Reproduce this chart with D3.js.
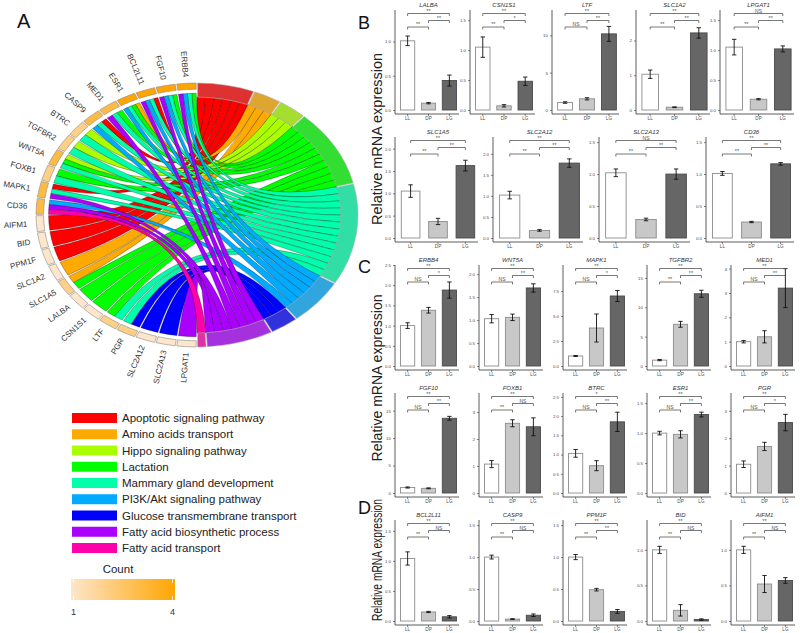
<!DOCTYPE html>
<html><head><meta charset="utf-8">
<script src="https://cdn.jsdelivr.net/npm/d3@7"></script>
<style>
body{margin:0;background:#fff}
svg{display:block}
text{font-family:"Liberation Sans",Arial,sans-serif}
</style>
</head><body>
<svg id="c" width="800" height="633"></svg>
<script>
// ---------- Chord (panel A) data ----------
const chordTerms = ["Apoptotic signaling pathway","Amino acids transport","Hippo signaling pathway","Lactation","Mammary gland development","PI3K/Akt signaling pathway","Glucose transmembrane transport","Fatty acid biosynthetic process","Fatty acid transport"];
const termColors = ["#FF0000","#FFAA00","#AAFF00","#00FF00","#00FFAA","#00AAFF","#0000FF","#AA00FF","#FF00AA"];
const chordGenes = ["ERBB4","FGF10","BCL2L11","ESR1","MED1","CASP9","BTRC","TGFBR2","WNT5A","FOXB1","MAPK1","CD36","AIFM1","BID","PPM1F","SLC1A2","SLC1A5","LALBA","CSN1S1","LTF","PGR","SLC2A12","SLC2A13","LPGAT1"];
const geneTerms = [[3,4,5,7],[3,4,5,7],[0,4,5,7],[1,3,4,5],[3,4,7],[0,4,5],[2,4],[2,4],[2,3,4],[3,4],[0,4,7],[5,7,8],[0],[0],[0],[1],[1,3],[3],[3],[3,4],[4,6],[6],[6],[7]];
const countRange = [1, 4];

// ---------- qPCR panels (B, C, D) data ----------
const groups = ["LL","DP","LG"];
const panelGenes = ["LALBA","CSN1S1","LTF","SLC1A2","LPGAT1","SLC1A5","SLC2A12","SLC2A13","CD36","ERBB4","WNT5A","MAPK1","TGFBR2","MED1","FGF10","FOXB1","BTRC","ESR1","PGR","BCL2L11","CASP9","PPM1F","BID","AIFM1"];
const meanLL = [1.01,1.05,1.0,1.03,1.05, 1.05,1.02,1.02,1.01, 1.0,1.03,1.0,1.0,1.0, 1.0,1.07,1.03,1.0,1.05, 1.04,1.0,1.0,1.0,1.0];
const errLL  = [0.07,0.17,0.1,0.12,0.13, 0.14,0.09,0.06,0.03, 0.07,0.09,0.05,0.1,0.05, 0.1,0.13,0.1,0.03,0.12, 0.11,0.03,0.04,0.05,0.05];
const meanDP = [0.10,0.07,1.5,0.08,0.18, 0.37,0.18,0.29,0.25, 1.38,1.06,3.8,7.1,1.2, 0.85,2.58,0.71,0.98,1.7, 0.15,0.03,0.49,0.15,0.52];
const errDP  = [0.01,0.02,0.15,0.01,0.01, 0.07,0.02,0.02,0.01, 0.07,0.07,1.4,0.5,0.25, 0.08,0.13,0.13,0.06,0.15, 0.01,0.005,0.02,0.08,0.12];
const meanLG = [0.43,0.48,10.2,2.22,1.02, 1.62,1.78,1.0,1.16, 1.88,1.7,7.0,12.3,3.2, 13.6,2.45,1.85,1.31,2.57, 0.07,0.09,0.15,0.02,0.57];
const errLG  = [0.08,0.07,1.0,0.15,0.05, 0.12,0.1,0.08,0.02, 0.2,0.09,0.55,0.6,0.8, 0.35,0.33,0.25,0.04,0.3, 0.02,0.02,0.03,0.01,0.04];
const yMax   = [1.46,1.67,13.4,2.88,1.67, 2.26,2.4,1.58,1.58, 2.5,2.2,10.1,17.2,4.15, 18.2,3.7,2.6,1.67,3.65, 1.68,1.58,1.58,1.42,1.42];
const yTicks = [[0,0.5,1],[0,0.5,1,1.5],[0,5,10],[0,1,2],[0,0.5,1,1.5],
  [0,0.5,1,1.5,2],[0,0.5,1,1.5,2],[0,0.5,1,1.5],[0,0.5,1,1.5],
  [0,0.5,1,1.5,2,2.5],[0,0.5,1,1.5,2],[0,2.5,5,7.5],[0,5,10,15],[0,1,2,3,4],
  [0,5,10,15],[0,1,2,3],[0,0.5,1,1.5,2,2.5],[0,0.5,1,1.5],[0,1,2,3],
  [0,0.5,1,1.5],[0,0.5,1,1.5],[0,0.5,1,1.5],[0,0.5,1],[0,0.5,1]];
const sigLLDP = ["**","**","NS","**","**", "**","**","**","**", "NS","NS","NS","**","NS", "NS","**","NS","NS","NS", "**","**","**","**","**"];
const sigDPLG = ["**","*","**","**","**", "**","**","**","**", "*","**","*","**","**", "**","NS","**","**","*", "NS","NS","**","NS","NS"];
const sigLLLG = ["**","**","**","**","NS", "**","**","NS","**", "**","**","**","**","**", "**","**","*","**","**", "**","**","**","**","**"];

// ---------- drawing ----------
const svg = d3.select("#c");
const FONT = "'Liberation Sans', Arial, sans-serif";

// panel letters
svg.append("text").attr("x",17).attr("y",28).attr("font-size",20).attr("fill","#111").text("A");
[["B",29],["C",273],["D",514]].forEach(([t,y])=>svg.append("text").attr("x",358).attr("y",y).attr("font-size",18).attr("fill","#111").text(t));

// ===== Chord diagram =====
const cx = 197, cy = 215, RY = 132, RX = 161;
const nG = chordGenes.length;
const geneAng = d3.scaleLinear().domain([0, nG]).range([2*Math.PI, Math.PI]);
const termCounts = chordTerms.map((t,k)=>geneTerms.filter(a=>a.includes(k)).length);
const termStart = []; termCounts.reduce((s,c,k)=>{termStart[k]=s; return s+c;},0);
const nL = d3.sum(termCounts);
const termAng = d3.scaleLinear().domain([0, nL]).range([0, Math.PI]);
const countColor = d3.scaleLinear().domain(countRange).range(["#FDE6CB","#FFA500"]);
const gpad = 0.005;
const links = [];
const termPos = chordTerms.map(()=>0);
chordGenes.forEach((g,i)=>{
  const ts = geneTerms[i].slice().sort((a,b)=>a-b);
  const a1 = geneAng(i) - gpad, a0 = geneAng(i+1) + gpad;
  const w = (a1-a0)/ts.length;
  ts.forEach((k,j)=>{
    const p = termStart[k] + termPos[k]++;
    links.push({term:k,
      source:{startAngle:a1-(j+1)*w, endAngle:a1-j*w, radius:0.922*RY},
      target:{startAngle:termAng(p), endAngle:termAng(p+1), radius:0.895*RY}});
  });
});
const chordG = svg.append("g").attr("transform",`translate(${cx},${cy}) scale(${RX/RY},1)`);
const ribbon = d3.ribbon().radius(d=>d.radius);
chordG.append("g").selectAll("path").data(links.sort((a,b)=>a.term-b.term)).join("path")
  .attr("d",ribbon).attr("fill",d=>termColors[d.term])
  .attr("stroke","rgba(0,0,0,0.55)").attr("stroke-width",0.5).attr("vector-effect","non-scaling-stroke");
// gene ring
const geneArc = d3.arc().innerRadius(0.953*RY).outerRadius(RY);
chordG.append("g").selectAll("path").data(chordGenes).join("path")
  .attr("d",(g,i)=>geneArc({startAngle:geneAng(i+1)+gpad, endAngle:geneAng(i)-gpad}))
  .attr("fill",(g,i)=>countColor(geneTerms[i].length))
  .attr("stroke","#8a8a8a").attr("stroke-width",0.6).attr("vector-effect","non-scaling-stroke");
// term ring
const termArc = d3.arc().innerRadius(0.893*RY).outerRadius(RY);
chordG.append("g").selectAll("path").data(chordTerms).join("path")
  .attr("d",(t,k)=>termArc({startAngle:termAng(termStart[k])+0.004, endAngle:termAng(termStart[k]+termCounts[k])-0.004}))
  .attr("fill",(t,k)=>d3.interpolateRgb(termColors[k],"#999999")(0.32))
  .attr("stroke","#b0b0b0").attr("stroke-width",0.6).attr("vector-effect","non-scaling-stroke");
// gene labels
chordGenes.forEach((g,i)=>{
  const th = (geneAng(i)+geneAng(i+1))/2;
  const x = cx + (RX+9)*Math.sin(th), y = cy - (RY+6)*Math.cos(th);
  const rot = Math.atan2(cy-y, cx-x)*180/Math.PI;
  svg.append("text").attr("transform",`translate(${x},${y}) rotate(${rot})`)
    .attr("text-anchor","end").attr("dy","0.35em").attr("font-size",8).attr("fill","#333").text(g);
});

// legend
const legY = d3.scaleLinear().domain([0, chordTerms.length-1]).range([418, 548]);
chordTerms.forEach((t,k)=>{
  svg.append("rect").attr("x",72).attr("y",legY(k)-5).attr("width",45).attr("height",10).attr("fill",termColors[k]);
  svg.append("text").attr("x",122).attr("y",legY(k)).attr("dy","0.36em").attr("font-size",11.5).attr("fill","#222").text(t);
});
const defs = svg.append("defs");
const lg = defs.append("linearGradient").attr("id","cg");
lg.append("stop").attr("offset","0%").attr("stop-color",countColor(countRange[0]));
lg.append("stop").attr("offset","100%").attr("stop-color",countColor(countRange[1]));
svg.append("text").attr("x",118).attr("y",573).attr("text-anchor","middle").attr("font-size",11.5).attr("fill","#222").text("Count");
svg.append("rect").attr("x",71).attr("y",579).attr("width",104).attr("height",21).attr("fill","url(#cg)");
const cbx = d3.scaleLinear().domain(countRange).range([73.5,172.5]);
countRange.forEach(v=>{
  svg.append("line").attr("x1",cbx(v)).attr("x2",cbx(v)).attr("y1",579).attr("y2",583).attr("stroke","#fff").attr("stroke-width",0.8);
  svg.append("line").attr("x1",cbx(v)).attr("x2",cbx(v)).attr("y1",596).attr("y2",600).attr("stroke","#fff").attr("stroke-width",0.8);
  svg.append("text").attr("x",cbx(v)).attr("y",615).attr("text-anchor","middle").attr("font-size",9).attr("fill","#333").text(v);
});

// ===== bar panels =====
const rowLayout = [
  {idx:[0,1,2,3,4], top:10, base:110, ax:[395,470,552,636,720], rt:[459,535,619,710,794]},
  {idx:[5,6,7,8], top:137, base:238, ax:[395,493,599,706], rt:[478,583,690,794]},
  {idx:[9,10,11,12,13], top:265, base:366, ax:[395,479,563,647,731], rt:[459,543,627,711,795]},
  {idx:[14,15,16,17,18], top:393, base:493, ax:[395,479,563,647,731], rt:[459,543,627,711,795]},
  {idx:[19,20,21,22,23], top:520, base:621, ax:[395,479,563,647,731], rt:[459,543,627,711,795]}
];
const barFill = ["#FFFFFF","#C8C8C8","#666666"];
const barStroke = ["#8c8c8c","#8c8c8c","#4a4a4a"];

function panel(i, ax, rt, top, base){
  const g = svg.append("g");
  const y = d3.scaleLinear().domain([0, yMax[i]]).range([base, top]);
  const x = d3.scaleBand().domain(groups).range([ax+3, rt]).paddingInner(0.32).paddingOuter(0.12);
  const bot = base + 4;
  g.append("line").attr("x1",ax).attr("x2",ax).attr("y1",top).attr("y2",bot).attr("stroke","#333").attr("stroke-width",0.8);
  g.append("line").attr("x1",ax).attr("x2",rt).attr("y1",bot).attr("y2",bot).attr("stroke","#333").attr("stroke-width",0.8);
  const fmt = yTicks[i].every(Number.isInteger) ? d3.format("d") : d3.format(".1f");
  const ya = g.append("g").attr("transform",`translate(${ax},0)`)
    .call(d3.axisLeft(y).tickValues(yTicks[i]).tickFormat(fmt).tickSize(2).tickPadding(2));
  ya.attr("font-size",4.4).attr("font-family",FONT).attr("color","#4d4d4d");
  ya.select(".domain").remove();
  ya.selectAll("line").attr("stroke","#333").attr("stroke-width",0.6);
  const xa = g.append("g").attr("transform",`translate(0,${bot})`)
    .call(d3.axisBottom(x).tickSize(2).tickPadding(1));
  xa.attr("font-size",4.6).attr("font-family",FONT).attr("color","#4d4d4d");
  xa.select(".domain").remove();
  xa.selectAll("line").attr("stroke","#333").attr("stroke-width",0.6);
  const vals = [meanLL[i], meanDP[i], meanLG[i]], errs = [errLL[i], errDP[i], errLG[i]];
  groups.forEach((gr,k)=>{
    g.append("rect").attr("x",x(gr)).attr("y",y(vals[k])).attr("width",x.bandwidth())
      .attr("height",y(0)-y(vals[k])).attr("fill",barFill[k]).attr("stroke",barStroke[k]).attr("stroke-width",0.9);
  });
  groups.forEach((gr,k)=>{
    const m = x(gr)+x.bandwidth()/2, hw = 2.2;
    const y1 = y(vals[k]+errs[k]), y0 = y(Math.max(0,vals[k]-errs[k]));
    g.append("path").attr("d",`M${m},${y0}V${y1}M${m-hw},${y1}H${m+hw}M${m-hw},${y0}H${m+hw}`)
      .attr("stroke","#111").attr("stroke-width",0.9).attr("fill","none");
  });
  const br = [[0,2,sigLLLG[i],3.5],[1,2,sigDPLG[i],10.5],[0,1,sigLLDP[i],17]];
  br.forEach(([a,b,s,off])=>{
    const xa1 = x(groups[a])+x.bandwidth()/2, xb = x(groups[b])+x.bandwidth()/2, yy = top+off;
    g.append("path").attr("d",`M${xa1},${yy+2.5}V${yy}H${xb}V${yy+2.5}`).attr("stroke","#555").attr("stroke-width",0.8).attr("fill","none");
    g.append("text").attr("x",(xa1+xb)/2).attr("y",yy-1).attr("text-anchor","middle").attr("font-size",s==="NS"?5:5.5).attr("fill","#555").text(s);
  });
  g.append("text").attr("x",(ax+3+rt)/2).attr("y",top-3).attr("text-anchor","middle").attr("font-size",6)
    .attr("font-style","italic").attr("fill","#333").text(panelGenes[i]);
}
rowLayout.forEach(r=>r.idx.forEach((i,j)=>panel(i, r.ax[j], r.rt[j], r.top, r.base)));

// y-axis titles
[[139,172],[378,167],[560,122]].forEach(([yc,len])=>{
  svg.append("text").attr("transform",`translate(382,${yc}) rotate(-90)`).attr("text-anchor","middle")
    .attr("font-size",14).attr("fill","#222").attr("textLength",len).attr("lengthAdjust","spacingAndGlyphs")
    .text("Relative mRNA expression");
});
</script>
</body></html>
